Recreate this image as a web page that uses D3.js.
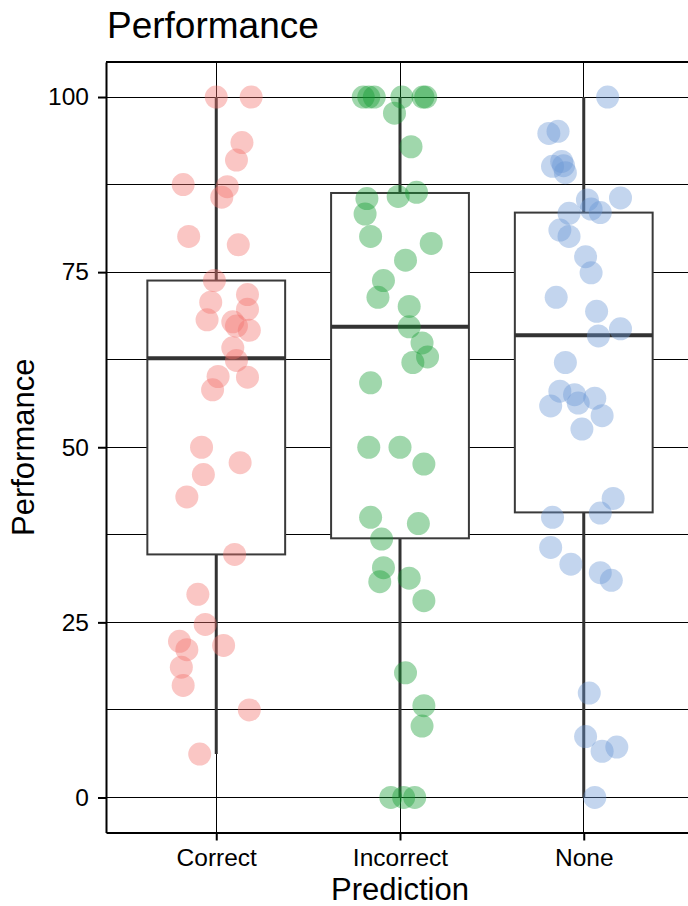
<!DOCTYPE html>
<html>
<head>
<meta charset="utf-8">
<script src="https://cdn.jsdelivr.net/npm/d3@7"></script>
<style>
  html, body { margin: 0; padding: 0; background: #fff; }
  svg { display: block; font-family: "Liberation Sans", Arial, sans-serif; }
</style>
</head>
<body>
<svg id="chart" width="688" height="906"></svg>
<script>
// categories and box summaries
const categories = ['Correct', 'Incorrect', 'None']
const boxLower = [6.2, 0, 0]
const boxQ1 = [34.7, 37.0, 40.7]
const boxMedian = [62.7, 67.2, 66.0]
const boxQ3 = [73.8, 86.3, 83.5]
const boxUpper = [100, 100, 100]

// points (value) and their horizontal jitter (fraction of a category step)
const correctValues = [100, 100, 93.5, 91.0, 87.5, 87.2, 85.7, 80.1, 78.9, 73.8, 71.8, 70.7, 69.7, 68.2, 67.9, 67.3, 66.7, 64.2, 62.4,
    60.1, 60.0, 58.2, 50.0, 47.8, 46.1, 42.9, 34.7, 29.0, 24.7, 22.3, 21.1, 21.7, 18.6, 16.0, 12.5, 6.2]
const correctJitter = [0.00, 0.19, 0.14, 0.11, -0.18, 0.06, 0.03, -0.15, 0.12, -0.01, 0.17, -0.03, 0.17, -0.05, 0.09, 0.11, 0.18, 0.09, 0.11,
    0.01, 0.17, -0.02, -0.08, 0.13, -0.07, -0.16, 0.10, -0.10, -0.06, -0.20, -0.16, 0.04, -0.19, -0.18, 0.18, -0.09]

const incorrectValues = [100, 100, 100, 100, 100, 100, 97.7, 92.9, 85.5, 85.8, 86.4, 83.3, 80.1, 79.1, 76.7, 73.8, 71.4, 70.1, 67.2,
    64.9, 62.9, 62.1, 59.2, 50.0, 50.0, 47.6, 40.0, 39.1, 36.9, 32.8, 30.8, 31.3, 28.1, 17.8, 13.1, 10.2, 0, 0, 0]
const incorrectJitter = [-0.20, -0.17, -0.14, 0.01, 0.125, 0.14, -0.03, 0.06, -0.18, -0.01, 0.09, -0.19, -0.16, 0.17, 0.03, -0.09, -0.12, 0.05, 0.05,
    0.12, 0.15, 0.07, -0.16, -0.17, 0.00, 0.13, -0.16, 0.10, -0.10, -0.09, -0.11, 0.05, 0.13, 0.03, 0.13, 0.12, -0.05, 0.02, 0.08]

const noneValues = [100, 94.8, 95.1, 90.1, 90.8, 90.2, 89.2, 85.3, 85.6, 83.4, 84.0, 83.5, 81.0, 80.1, 77.2, 74.9, 71.4, 69.4, 66.9, 65.9,
    62.1, 58.0, 57.5, 56.3, 57.0, 55.9, 54.5, 52.6, 42.7, 40.6, 40.0, 35.7, 33.3, 32.1, 31.0, 14.9, 8.7, 6.6, 7.2, 0]
const noneJitter = [0.13, -0.19, -0.14, -0.17, -0.12, -0.11, -0.10, 0.02, 0.20, -0.08, 0.04, 0.09, -0.13, -0.08, 0.01, 0.04, -0.15, 0.07, 0.20, 0.08,
    -0.10, -0.13, -0.05, -0.03, 0.06, -0.18, 0.10, -0.01, 0.16, 0.09, -0.17, -0.18, -0.07, 0.09, 0.15, 0.03, 0.01, 0.10, 0.18, 0.06]

const yTicks = [0, 25, 50, 75, 100]
const yGrid = [0, 12.5, 25, 37.5, 50, 62.5, 75, 87.5, 100]
const pointColors = ['#F2716B', '#119B30', '#6996D4']

//chart globals
const svg = d3.select('#chart')
const width = 688
const height = 906
const margin = { top: 62, right: -6, bottom: 73.5, left: 106 }
const panelRight = width - margin.right
const panelBottom = height - margin.bottom

//scales
const x = d3.scalePoint()
    .domain(categories)
    .range([margin.left, panelRight])
    .padding(0.6)

const y = d3.scaleLinear()
    .domain([-5, 105])
    .range([panelBottom, margin.top])

const color = d3.scaleOrdinal().domain(categories).range(pointColors)

//gridlines
const grid = svg.append('g').attr('class', 'grid')
grid.selectAll('line.h')
    .data(yGrid)
    .enter().append('line')
    .attr('class', 'h')
    .attr('x1', margin.left).attr('x2', panelRight)
    .attr('y1', d => y(d)).attr('y2', d => y(d))
    .attr('stroke', '#000').attr('stroke-width', 1)
    .attr('shape-rendering', 'crispEdges')
grid.selectAll('line.v')
    .data(categories)
    .enter().append('line')
    .attr('class', 'v')
    .attr('x1', d => x(d)).attr('x2', d => x(d))
    .attr('y1', margin.top).attr('y2', panelBottom)
    .attr('stroke', '#000').attr('stroke-width', 1)
    .attr('shape-rendering', 'crispEdges')

//boxplots
const boxes = categories.map((c, i) => ({
    cat: c, lo: boxLower[i], q1: boxQ1[i], med: boxMedian[i], q3: boxQ3[i], hi: boxUpper[i]
}))
const boxW = x.step() * 0.75

const bg = svg.append('g').attr('class', 'boxes')
    .selectAll('g')
    .data(boxes)
    .enter().append('g')

bg.append('line')
    .attr('x1', d => x(d.cat)).attr('x2', d => x(d.cat))
    .attr('y1', d => y(d.lo)).attr('y2', d => y(d.hi))
    .attr('stroke', '#333').attr('stroke-width', 3)

bg.append('rect')
    .attr('x', d => x(d.cat) - boxW / 2)
    .attr('width', boxW)
    .attr('y', d => y(d.q3))
    .attr('height', d => y(d.q1) - y(d.q3))
    .attr('fill', '#fff')
    .attr('stroke', '#3a3a3a')
    .attr('stroke-width', 2)

bg.append('line')
    .attr('x1', d => x(d.cat) - boxW / 2).attr('x2', d => x(d.cat) + boxW / 2)
    .attr('y1', d => y(d.med)).attr('y2', d => y(d.med))
    .attr('stroke', '#333').attr('stroke-width', 4)

//jittered points
const points = []
const series = [[correctValues, correctJitter], [incorrectValues, incorrectJitter], [noneValues, noneJitter]]
series.forEach((s, i) => {
    s[0].forEach((v, j) => points.push({ cat: categories[i], value: v, dx: s[1][j] }))
})

svg.append('g').attr('class', 'points')
    .selectAll('circle')
    .data(points)
    .enter().append('circle')
    .attr('cx', d => x(d.cat) + d.dx * x.step())
    .attr('cy', d => y(d.value))
    .attr('r', 11.5)
    .attr('fill', d => color(d.cat))
    .attr('fill-opacity', 0.4)

//panel top border
svg.append('line')
    .attr('x1', margin.left).attr('x2', panelRight)
    .attr('y1', margin.top).attr('y2', margin.top)
    .attr('stroke', '#000').attr('stroke-width', 2)

//axes
const yAxisCall = d3.axisLeft(y)
    .tickValues(yTicks)
    .tickSizeInner(8)
    .tickSizeOuter(0)
    .tickPadding(9)

const xAxisCall = d3.axisBottom(x)
    .tickSizeInner(8)
    .tickSizeOuter(0)
    .tickPadding(8)

const yAxisGroup = svg.append('g')
    .attr('class', 'y-axis')
    .attr('transform', `translate(${margin.left}, 0)`)
    .call(yAxisCall)

const xAxisGroup = svg.append('g')
    .attr('class', 'x-axis')
    .attr('transform', `translate(0, ${panelBottom})`)
    .call(xAxisCall)

svg.selectAll('.domain').attr('stroke', '#000').attr('stroke-width', 2)
svg.selectAll('.tick line').attr('stroke', '#000').attr('stroke-width', 2)
svg.selectAll('.tick text')
    .attr('fill', '#000')
    .attr('font-size', '24.5px')
    .attr('font-family', '"Liberation Sans", Arial, sans-serif')

//labels
svg.append('text')
    .attr('x', margin.left + 1)
    .attr('y', 38)
    .attr('font-size', '37px')
    .attr('fill', '#000')
    .text('Performance')

svg.append('text')
    .attr('class', 'x-axis label')
    .attr('x', x('Incorrect'))
    .attr('y', 900)
    .attr('font-size', '31px')
    .attr('text-anchor', 'middle')
    .attr('fill', '#000')
    .text('Prediction')

svg.append('text')
    .attr('class', 'y-axis label')
    .attr('x', -(margin.top + panelBottom) / 2)
    .attr('y', 34)
    .attr('font-size', '31px')
    .attr('text-anchor', 'middle')
    .attr('transform', 'rotate(-90)')
    .attr('fill', '#000')
    .text('Performance')
</script>
</body>
</html>
